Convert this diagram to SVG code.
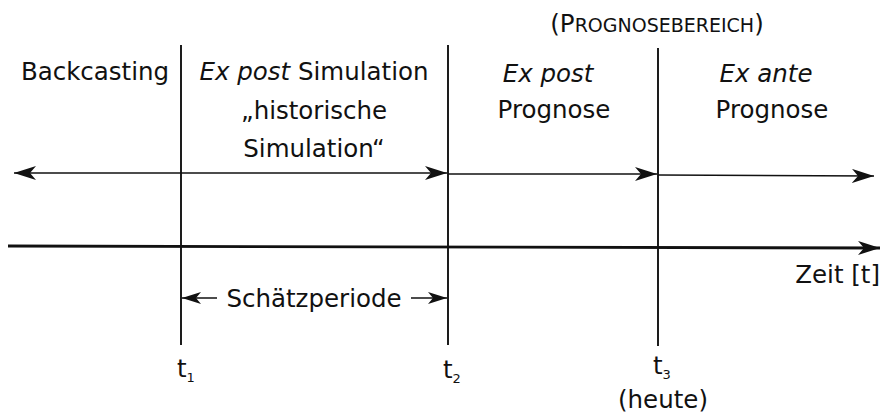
<svg xmlns="http://www.w3.org/2000/svg" width="881" height="413" viewBox="0 0 881 413">
<style>
  text { font-family: "DejaVu Sans", "Liberation Sans", sans-serif; font-size: 24.5px; fill: #111; }
  .it { font-style: italic; }
  .mid { text-anchor: middle; }
  .sc { font-size: 19px; }
  .sub { font-size: 13px; }
  .thin { stroke: #111; stroke-width: 1.4; fill: none; }
  .vert { stroke: #111; stroke-width: 1.9; fill: none; }
  .axis { stroke: #111; stroke-width: 2.8; fill: none; }
</style>
<defs>
  <marker id="ah" markerUnits="userSpaceOnUse" markerWidth="24" markerHeight="16" refX="22" refY="7" orient="auto-start-reverse">
    <path d="M0,0 L22,7 L0,14 L6,7 z" fill="#111"/>
  </marker>
  <marker id="ahs" markerUnits="userSpaceOnUse" markerWidth="22" markerHeight="14" refX="19" refY="6" orient="auto-start-reverse">
    <path d="M0,0 L19,6 L0,12 L5,6 z" fill="#111"/>
  </marker>
</defs>
<g id="connectors">
  <line id="v1" class="vert" x1="181" y1="45" x2="181" y2="345"/>
  <line id="v2" class="vert" x1="448" y1="45" x2="448" y2="345"/>
  <line id="v3" class="vert" x1="658" y1="48" x2="658" y2="346"/>
  <line class="thin" x1="14" y1="173" x2="181" y2="173" marker-start="url(#ah)"/>
  <line class="thin" x1="181" y1="173" x2="447" y2="173" marker-end="url(#ah)"/>
  <line class="thin" x1="448" y1="174" x2="657" y2="174" marker-end="url(#ah)"/>
  <line class="thin" x1="658" y1="175" x2="874" y2="176" marker-end="url(#ah)"/>
  <line class="axis" x1="8" y1="246" x2="880" y2="248" marker-end="url(#ah)"/>
  <line class="thin" x1="182" y1="298" x2="217" y2="298" marker-start="url(#ahs)"/>
  <line class="thin" x1="411" y1="298" x2="447" y2="298" marker-end="url(#ahs)"/>
</g>
<g id="backcasting">
  <text x="95" y="80" class="mid">Backcasting</text>
</g>
<g id="expost-simulation">
  <text x="314" y="80" class="mid"><tspan class="it">Ex post</tspan> Simulation</text>
  <text x="314" y="119" class="mid">„historische</text>
  <text x="314" y="157" class="mid">Simulation“</text>
</g>
<g id="prognosebereich">
  <text x="657" y="32" class="mid">(P<tspan class="sc">ROGNOSEBEREICH</tspan>)</text>
</g>
<g id="expost-prognose">
  <text x="548" y="82" class="mid it">Ex post</text>
  <text x="554" y="118" class="mid">Prognose</text>
</g>
<g id="exante-prognose">
  <text x="766" y="82" class="mid it">Ex ante</text>
  <text x="772" y="118" class="mid">Prognose</text>
</g>
<g id="zeit">
  <text x="880" y="283" text-anchor="end">Zeit [t]</text>
</g>
<g id="schaetzperiode">
  <text x="314" y="307" class="mid">Schätzperiode</text>
</g>
<g id="t1">
  <text x="177" y="377">t<tspan class="sub" dy="5">1</tspan></text>
</g>
<g id="t2">
  <text x="443" y="378">t<tspan class="sub" dy="5">2</tspan></text>
</g>
<g id="t3">
  <text x="653" y="374">t<tspan class="sub" dy="5">3</tspan></text>
  <text x="663" y="408" class="mid">(heute)</text>
</g>
</svg>
